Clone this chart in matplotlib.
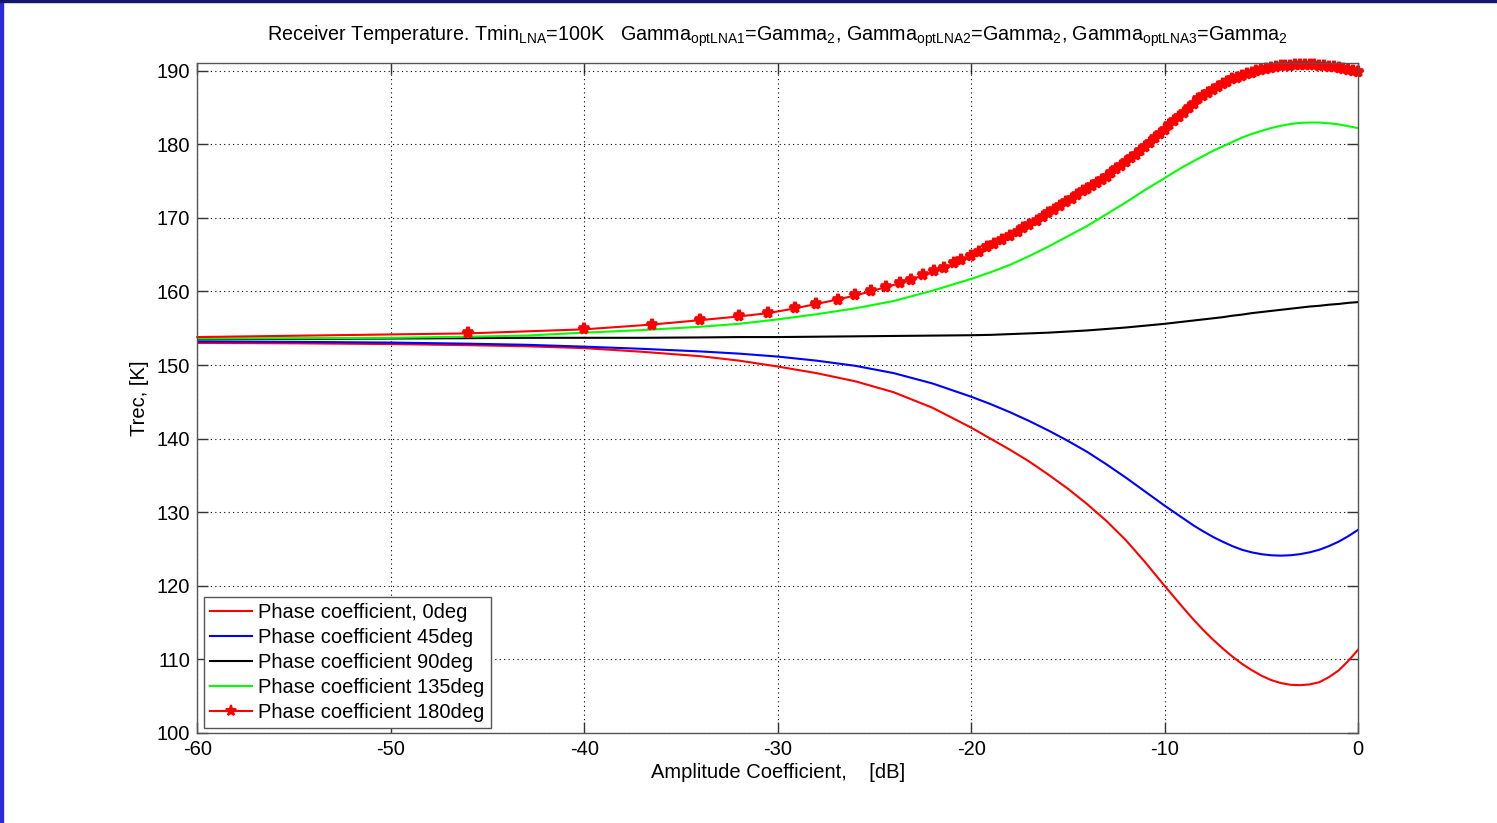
import matplotlib
matplotlib.use("Agg")
import matplotlib.pyplot as plt
from matplotlib.patches import Rectangle

plt.rcParams["font.family"] = ["Liberation Sans", "DejaVu Sans"]
plt.rcParams["mathtext.fontset"] = "custom"
plt.rcParams["mathtext.rm"] = "Liberation Sans"
plt.rcParams["mathtext.it"] = "Liberation Sans"
plt.rcParams["axes.unicode_minus"] = False

# Amplitude coefficient grid [dB] for the plain curves
amp_db = [-60, -55, -50, -46, -43, -40, -37, -34, -32, -30, -28, -26, -24, -22,
          -20, -19, -18, -17, -16, -15, -14, -13, -12, -11, -10,
          -9, -8.5, -8, -7.5, -7, -6.5, -6, -5.5, -5, -4.5, -4, -3.5, -3,
          -2.5, -2, -1.5, -1, -0.5, 0]

trec_0deg = [153.0, 152.95, 152.85, 152.7, 152.55, 152.3, 151.8, 151.2, 150.6,
             149.8, 148.9, 147.8, 146.3, 144.2, 141.5, 140.0, 138.5, 136.9,
             135.1, 133.2, 131.1, 128.8, 126.2, 123.2, 120.0,
             116.9, 115.4, 114.0, 112.7, 111.5, 110.4, 109.4, 108.55, 107.8,
             107.2, 106.8, 106.55, 106.5, 106.6, 106.9, 107.6, 108.5, 109.8, 111.3]

trec_45deg = [153.2, 153.15, 153.05, 152.9, 152.75, 152.5, 152.2, 151.85, 151.55,
              151.15, 150.6, 149.9, 148.9, 147.5, 145.7, 144.7, 143.6, 142.4,
              141.1, 139.7, 138.2, 136.5, 134.7, 132.8, 130.9,
              129.1, 128.2, 127.4, 126.65, 126.0, 125.4, 124.9, 124.55, 124.3,
              124.15, 124.1, 124.15, 124.3, 124.55, 124.9, 125.4, 126.0, 126.75, 127.6]

trec_90deg = [153.5, 153.55, 153.6, 153.65, 153.7, 153.7, 153.7, 153.75, 153.8,
              153.8, 153.85, 153.9, 153.95, 154.0, 154.05, 154.1, 154.2, 154.3,
              154.4, 154.55, 154.7, 154.9, 155.1, 155.35, 155.6,
              155.9, 156.05, 156.2, 156.35, 156.5, 156.7, 156.85, 157.05, 157.2,
              157.35, 157.5, 157.65, 157.8, 157.95, 158.05, 158.2, 158.3, 158.45, 158.55]

trec_135deg = [153.6, 153.65, 153.7, 153.85, 154.0, 154.4, 154.75, 155.2, 155.6,
               156.2, 156.9, 157.7, 158.7, 160.1, 161.7, 162.6, 163.6, 164.8,
               166.1, 167.5, 168.9, 170.5, 172.1, 173.8, 175.4,
               177.0, 177.7, 178.4, 179.1, 179.7, 180.3, 180.9, 181.4, 181.8,
               182.2, 182.5, 182.75, 182.9, 182.95, 182.95, 182.85, 182.7, 182.45, 182.2]

# 180deg curve sampled at its marker positions [dB]
amp_db_180 = [-60, -46.0, -40.0, -36.5, -34.0, -32.0, -30.5, -29.1, -28.0, -26.9,
              -26.0, -25.2, -24.4, -23.7, -23.1, -22.5, -21.9, -21.4, -20.9,
              -20.5, -20.0, -19.6, -19.2, -18.8, -18.4, -18.0, -17.6, -17.3,
              -17.0, -16.6, -16.3, -16.0, -15.7, -15.4, -15.1, -14.8, -14.5,
              -14.2, -14.0, -13.75, -13.5, -13.25, -13.0, -12.75, -12.5, -12.25,
              -12.0, -11.75, -11.5, -11.25, -11.0, -10.75, -10.5, -10.25, -10.0,
              -9.75, -9.5, -9.25, -9.0, -8.75, -8.5, -8.25, -8.0, -7.75, -7.5,
              -7.25, -7.0, -6.75, -6.5, -6.25, -6.0, -5.75, -5.5, -5.25, -5.0,
              -4.75, -4.5, -4.25, -4.0, -3.75, -3.5, -3.25, -3.0, -2.75, -2.5,
              -2.25, -2.0, -1.75, -1.5, -1.25, -1.0, -0.75, -0.5, -0.25, 0.0]

trec_180deg = [153.8, 154.3, 154.85, 155.5, 156.1, 156.6, 157.05, 157.7, 158.3,
               158.9, 159.45, 160.0, 160.6, 161.1, 161.6, 162.2, 162.75, 163.2,
               163.8, 164.3, 164.8, 165.4, 166.0, 166.5, 167.0, 167.5, 168.1,
               168.6, 169.0, 169.6, 170.1, 170.6, 171.1, 171.6, 172.1, 172.6,
               173.1, 173.6, 173.9, 174.3, 174.7, 175.2, 175.6, 176.1, 176.6,
               177.1, 177.6, 178.1, 178.6, 179.1, 179.6, 180.2, 180.8, 181.4,
               182.0, 182.6, 183.2, 183.7, 184.3, 184.9, 185.5, 186.1, 186.6,
               187.0, 187.4, 187.8, 188.2, 188.5, 188.8, 189.05, 189.3, 189.5,
               189.7, 189.9, 190.1, 190.2, 190.35, 190.5, 190.6, 190.65, 190.7,
               190.75, 190.8, 190.8, 190.8, 190.75, 190.7, 190.65, 190.55, 190.45,
               190.35, 190.25, 190.1, 190.0, 189.85]

labels = ["Phase coefficient, 0deg", "Phase coefficient 45deg",
          "Phase coefficient 90deg", "Phase coefficient 135deg",
          "Phase coefficient 180deg"]

x_ticks = [-60, -50, -40, -30, -20, -10, 0]
y_ticks = [100, 110, 120, 130, 140, 150, 160, 170, 180, 190]

W, H, DPI = 1497, 823, 100
FS = 14.5
fig = plt.figure(figsize=(W / DPI, H / DPI), dpi=DPI, facecolor="white")
ax = fig.add_axes([197.3 / W, 1 - 733 / H, (1358 - 197.3) / W, (733 - 63.3) / H])

lw = 1.5
ax.plot(amp_db, trec_0deg, color="#ff0000", lw=lw, label=labels[0])
ax.plot(amp_db, trec_45deg, color="#0000ff", lw=lw, label=labels[1])
ax.plot(amp_db, trec_90deg, color="#000000", lw=lw, label=labels[2])
ax.plot(amp_db, trec_135deg, color="#00ff00", lw=lw, label=labels[3])
ax.plot(amp_db_180, trec_180deg, color="#ff0000", lw=lw, marker="*",
        markersize=8, markeredgewidth=2.6, markevery=slice(1, None),
        label=labels[4], clip_on=False)

ax.set_xlim(-60, 0)
ax.set_ylim(100, 191)
ax.set_xticks(x_ticks)
ax.set_yticks(y_ticks)
ax.tick_params(direction="in", length=8, width=1, top=True, right=True,
               labelsize=FS, pad=5, color="#333333")
for s in ax.spines.values():
    s.set_color("#555555")
    s.set_linewidth(1)
ax.grid(True, linestyle=(0, (1, 3)), color="#000000", linewidth=0.8)

ax.set_xlabel("Amplitude Coefficient,    [dB]", fontsize=FS, labelpad=3)
ax.set_ylabel("Trec, [K]", fontsize=FS, labelpad=6)
ax.set_title(r"Receiver Temperature. Tmin$_{\mathrm{LNA}}$=100K   "
             r"Gamma$_{\mathrm{optLNA1}}$=Gamma$_{\mathrm{2}}$, "
             r"Gamma$_{\mathrm{optLNA2}}$=Gamma$_{\mathrm{2}}$, "
             r"Gamma$_{\mathrm{optLNA3}}$=Gamma$_{\mathrm{2}}$",
             fontsize=14.2, pad=16)

leg = ax.legend(loc="lower left", bbox_to_anchor=(0.0058, 0.0075),
                borderaxespad=0, fontsize=FS, fancybox=False, framealpha=1,
                edgecolor="#555555", handlelength=2.1, handletextpad=0.3,
                labelspacing=0.3, borderpad=0.3)
leg.get_frame().set_linewidth(1)
leg.legend_handles[4].set_markeredgewidth(1.5)

# window frame edges
fig.add_artist(Rectangle((0, 0), 3 / W, 1, transform=fig.transFigure,
                         color="#2b2bd9", zorder=10))
fig.add_artist(Rectangle((0, 1 - 2 / H), 1, 2 / H, transform=fig.transFigure,
                         color="#15156b", zorder=10))

fig.savefig("out.png", dpi=DPI, facecolor="white")
